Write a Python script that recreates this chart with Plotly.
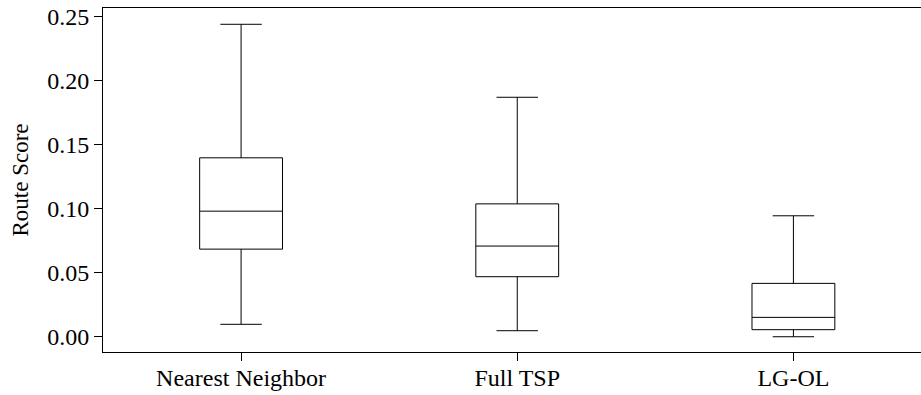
import plotly.graph_objects as go

# Route score distribution per routing method (box summary statistics)
methods = ["Nearest Neighbor", "Full TSP", "LG-OL"]
lower_whisker = [0.0099, 0.0049, 0.0002]
q1 = [0.0685, 0.0470, 0.0057]
median = [0.0981, 0.0709, 0.0153]
q3 = [0.1397, 0.1038, 0.0418]
upper_whisker = [0.2438, 0.1869, 0.0945]

y_ticks = [0.00, 0.05, 0.10, 0.15, 0.20, 0.25]

FONT = "Liberation Serif"

fig = go.Figure(
    go.Box(
        x=methods,
        lowerfence=lower_whisker,
        q1=q1,
        median=median,
        q3=q3,
        upperfence=upper_whisker,
        boxpoints=False,
        width=0.3,
        whiskerwidth=0.5,
        line=dict(color="black", width=1),
        fillcolor="white",
        showlegend=False,
        hoverinfo="skip",
    )
)

fig.update_layout(
    width=921,
    height=395,
    margin=dict(l=103, r=0, t=8, b=43),
    paper_bgcolor="white",
    plot_bgcolor="white",
    font=dict(family=FONT, size=24, color="black"),
    xaxis=dict(
        type="category",
        range=[-0.5, 2.462],
        showgrid=False,
        zeroline=False,
        showline=True,
        linecolor="black",
        linewidth=1,
        mirror=True,
        ticks="outside",
        ticklen=8,
        tickcolor="black",
        tickwidth=1,
        ticklabelstandoff=-4,
        tickfont=dict(family=FONT, size=24, color="black"),
    ),
    yaxis=dict(
        range=[-0.0117, 0.2565],
        tickvals=y_ticks,
        ticktext=[f"{v:.2f}" for v in y_ticks],
        showgrid=False,
        zeroline=False,
        showline=True,
        linecolor="black",
        linewidth=1,
        ticks="outside",
        ticklen=8,
        tickcolor="black",
        tickwidth=1,
        tickfont=dict(family=FONT, size=24, color="black"),
        title=dict(text="Route Score", font=dict(family=FONT, size=23, color="black"), standoff=12),
    ),
)

fig.write_html("out.html")
